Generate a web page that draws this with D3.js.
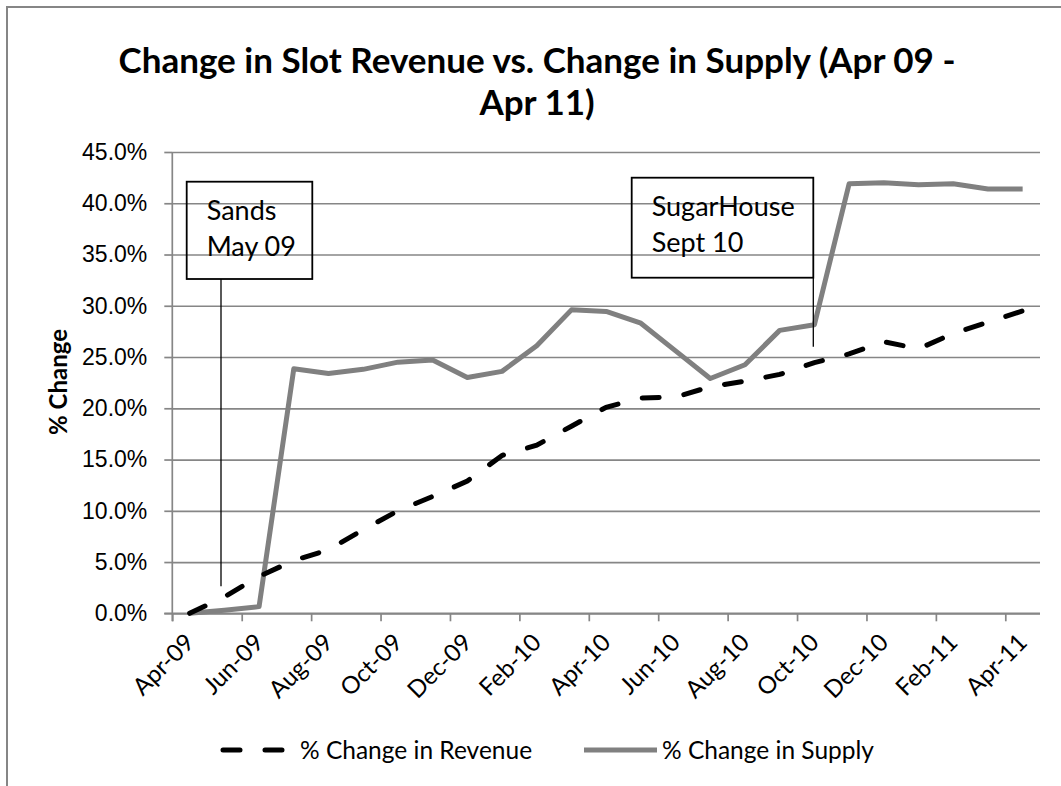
<!DOCTYPE html>
<html>
<head>
<meta charset="utf-8">
<script src="https://cdn.jsdelivr.net/npm/d3@7"></script>
<style>
    body { margin: 0; background: #fff; }
    svg { display: block; font-family: Lato, "Open Sans", sans-serif; }
</style>
</head>
<body>
<svg id="chart" width="1061" height="786"></svg>
<script>
// monthly values, Apr 09 - Apr 11
var months = ['Apr-09', 'May-09', 'Jun-09', 'Jul-09', 'Aug-09', 'Sep-09', 'Oct-09', 'Nov-09', 'Dec-09',
    'Jan-10', 'Feb-10', 'Mar-10', 'Apr-10', 'May-10', 'Jun-10', 'Jul-10', 'Aug-10', 'Sep-10', 'Oct-10',
    'Nov-10', 'Dec-10', 'Jan-11', 'Feb-11', 'Mar-11', 'Apr-11'];
var revenue = [0, 1.6, 3.6, 5.15, 6.2, 8.15, 10.0, 11.4, 12.9, 15.4, 16.4, 18.25, 20.1, 21.0, 21.1,
    22.1, 22.65, 23.3, 24.45, 25.3, 26.5, 25.8, 27.3, 28.4, 29.5];
var supply = [0, 0.3, 0.65, 23.85, 23.4, 23.8, 24.5, 24.7, 23.0, 23.6, 26.1, 29.6, 29.45, 28.3, 25.6,
    22.9, 24.25, 27.6, 28.15, 41.9, 42.0, 41.8, 41.9, 41.4, 41.4];
var yTicks = [0, 5, 10, 15, 20, 25, 30, 35, 40, 45];
var titleLines = ['Change in Slot Revenue vs. Change in Supply (Apr 09 -', 'Apr 11)'];
var seriesNames = ['% Change in Revenue', '% Change in Supply'];
var notes = [
    { lines: ['Sands', 'May 09'], month: 1, value: 2.65 },
    { lines: ['SugarHouse', 'Sept 10'], month: 18, value: 26.0 }
];

(function () {
    var svg = d3.select('#chart'),
        plotLeft = 172.3,
        plotRight = 1040,
        plotTop = 152,
        plotBottom = 613.3,
        grey = '#868686';

    // outer chart border, cut off at the right and bottom
    svg.append('rect')
        .attr('x', 7)
        .attr('y', 7)
        .attr('width', 1200)
        .attr('height', 1000)
        .attr('fill', 'none')
        .attr('stroke', grey)
        .attr('stroke-width', 2);

    var x = d3.scaleLinear().domain([0, months.length]).range([plotLeft, plotRight]),
        y = d3.scaleLinear().domain([0, 45]).range([plotBottom, plotTop]);

    // title
    svg.append('g')
        .selectAll('text')
        .data(titleLines)
        .join('text')
        .attr('x', 537)
        .attr('y', function (d, i) { return 73 + i * 42; })
        .attr('text-anchor', 'middle')
        .attr('font-size', 35)
        .attr('font-weight', 'bold')
        .text(function (d) { return d; });

    // gridlines
    svg.append('g')
        .attr('transform', 'translate(' + plotLeft + ',0)')
        .call(d3.axisLeft(y).tickValues(yTicks).tickSize(-(plotRight - plotLeft)).tickFormat(''))
        .call(function (g) {
            g.select('.domain').remove();
            g.selectAll('line').attr('stroke', grey).attr('stroke-width', 1.7);
        });

    // y axis
    svg.append('g')
        .attr('transform', 'translate(' + plotLeft + ',0)')
        .call(d3.axisLeft(y).tickValues(yTicks).tickSize(8).tickPadding(17)
            .tickFormat(function (d) { return d3.format('.1f')(d) + '%'; }))
        .call(function (g) {
            g.select('.domain').attr('stroke', grey).attr('stroke-width', 1.7)
                .attr('d', 'M0,' + plotTop + 'V' + (plotBottom + 8));
            g.selectAll('line').attr('stroke', grey).attr('stroke-width', 1.7);
            g.selectAll('text').attr('font-size', 23).attr('font-family', null).attr('fill', '#000');
        });

    // x axis ticks every two months
    var tickMonths = d3.range(0, months.length, 2);
    svg.append('g')
        .attr('transform', 'translate(0,' + plotBottom + ')')
        .call(d3.axisBottom(x).tickValues(tickMonths).tickSize(8).tickFormat(''))
        .call(function (g) {
            g.select('.domain').attr('stroke', grey).attr('stroke-width', 1.7)
                .attr('d', 'M' + (plotLeft - 8) + ',0H' + plotRight);
            g.selectAll('line').attr('stroke', grey).attr('stroke-width', 1.7);
        });

    // rotated month labels, centred on the month
    svg.append('g')
        .selectAll('text')
        .data(tickMonths)
        .join('text')
        .attr('transform', function (d) { return 'translate(' + x(d + 0.5) + ',' + 638 + ') rotate(-45)'; })
        .attr('text-anchor', 'end')
        .attr('dy', '0.35em')
        .attr('font-size', 24)
        .text(function (d) { return months[d]; });

    // y axis title
    svg.append('text')
        .attr('transform', 'translate(67,382) rotate(-90)')
        .attr('text-anchor', 'middle')
        .attr('font-size', 24)
        .attr('font-weight', 'bold')
        .text('% Change');

    var line = function (values) {
        return d3.line()
            .x(function (d, i) { return x(i + 0.5); })
            .y(function (d) { return y(d); })(values);
    };

    // series
    svg.append('path')
        .attr('d', line(supply))
        .attr('fill', 'none')
        .attr('stroke', '#808080')
        .attr('stroke-width', 5)
        .attr('stroke-linejoin', 'round');

    svg.append('path')
        .attr('d', line(revenue))
        .attr('fill', 'none')
        .attr('stroke', '#000')
        .attr('stroke-width', 5)
        .attr('stroke-linecap', 'round')
        .attr('stroke-dasharray', '17,25');

    // annotations
    var boxes = [
        { x: 186.7, y: 181.7, w: 125.6, h: 97.3, px: 221 },
        { x: 631.7, y: 177.7, w: 181.6, h: 100, px: 813.3 }
    ];
    notes.forEach(function (n, k) {
        var b = boxes[k],
            g = svg.append('g');
        g.append('line')
            .attr('x1', b.px).attr('x2', b.px)
            .attr('y1', b.y + b.h).attr('y2', y(n.value))
            .attr('stroke', '#000').attr('stroke-width', 1.3);
        g.append('rect')
            .attr('x', b.x).attr('y', b.y)
            .attr('width', b.w).attr('height', b.h)
            .attr('fill', 'none').attr('stroke', '#000').attr('stroke-width', 1.8);
        g.selectAll('text')
            .data(n.lines)
            .join('text')
            .attr('x', b.x + 20)
            .attr('y', function (d, i) { return b.y + 38 + i * 36; })
            .attr('font-size', 27)
            .text(function (d) { return d; });
    });

    // legend
    var legend = svg.append('g').attr('transform', 'translate(0,750)');
    legend.append('line')
        .attr('x1', 223).attr('x2', 283)
        .attr('stroke', '#000').attr('stroke-width', 5)
        .attr('stroke-linecap', 'round').attr('stroke-dasharray', '17,25');
    legend.append('text')
        .attr('x', 300).attr('dy', '0.35em')
        .attr('font-size', 24.5)
        .text(seriesNames[0]);
    legend.append('line')
        .attr('x1', 584).attr('x2', 657)
        .attr('stroke', '#808080').attr('stroke-width', 5);
    legend.append('text')
        .attr('x', 662).attr('dy', '0.35em')
        .attr('font-size', 24.5)
        .text(seriesNames[1]);
})();
</script>
</body>
</html>
